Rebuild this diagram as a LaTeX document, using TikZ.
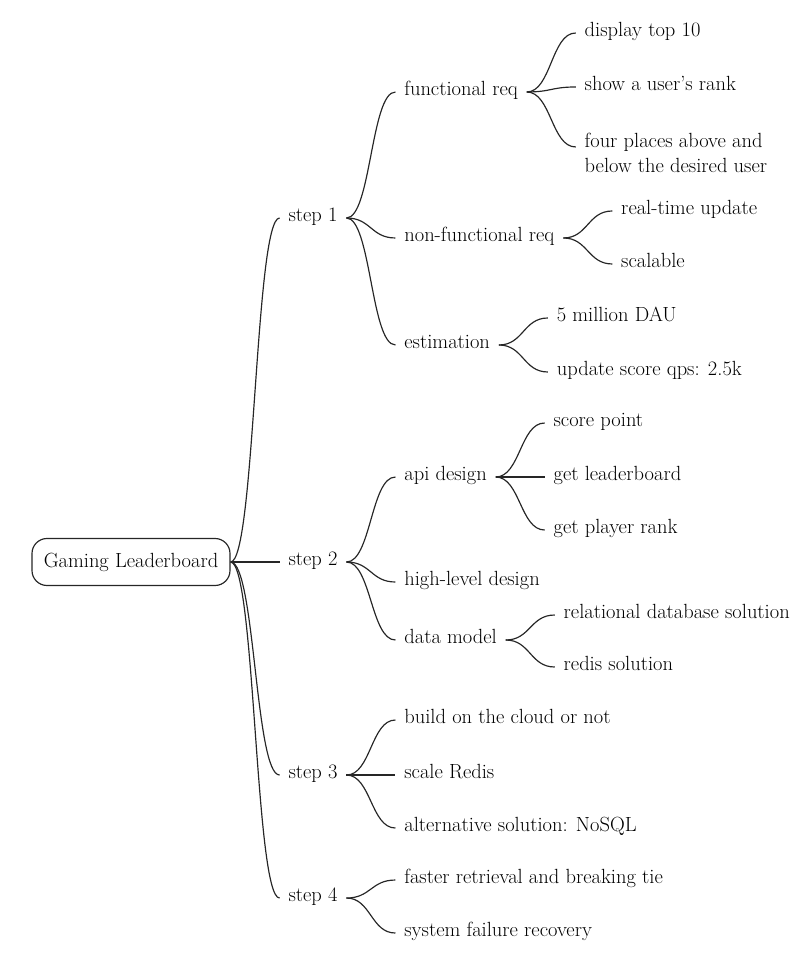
\documentclass[tikz,border=0pt]{standalone}
\usepackage{fontspec}
\usetikzlibrary{positioning,calc}
\begin{document}
\begin{tikzpicture}[x=0.03cm, y=-0.03cm, node distance=1.47cm, line width=1pt, black!85,
        main/.style = {draw=none, anchor=west, inner xsep=0.25cm, text height=2ex, text depth=0.6ex, text=black, font=\fontsize{17.5}{22}\selectfont},
        root/.style = {draw, rounded corners=0.45cm, minimum width=5.94cm, minimum height=1.41cm, text=black, font=\fontsize{17.5}{22}\selectfont},
        branch/.style = {to path={let \p1=(\tikztostart), \p2=(\tikztotarget) in
            .. controls ({0.5*\x1+0.5*\x2},\y1) and ({0.5*\x1+0.5*\x2},\y2) .. (\tikztotarget)}}]
    \useasboundingbox (0,0) rectangle (804,954);

    \node[root] (0) at (131,562)    {Gaming Leaderboard};
    \node[main] (1) [right=of 0, yshift=10.32cm]  {step 1};
    \node[main] (2) [right=of 0]                  {step 2};
    \node[main] (3) [right=of 0, yshift=-6.39cm]  {step 3};
    \node[main] (4) [right=of 0, yshift=-10.08cm] {step 4};

    \node[main] (11) [right=of 1, yshift=3.78cm]  {functional req};
    \node[main] (12) [right=of 1, yshift=-0.6cm]  {non-functional req};
    \node[main] (13) [right=of 1, yshift=-3.81cm] {estimation};
    \node[main] (111) [right=of 11, yshift=1.77cm] {display top 10};
    \node[main] (112) [right=of 11, yshift=0.15cm] {show a user's rank};
    \node[main, align=left, text height={}, text depth={}] (113) [right=of 11, yshift=-1.83cm] {four places above and\\below the desired user};
    \node[main] (121) [right=of 12, yshift=0.81cm]  {real-time update};
    \node[main] (122) [right=of 12, yshift=-0.78cm] {scalable};
    \node[main] (131) [right=of 13, yshift=0.81cm]  {5 million DAU};
    \node[main] (132) [right=of 13, yshift=-0.81cm] {update score qps: 2.5k};

    \node[main] (21) [right=of 2, yshift=2.55cm]  {api design};
    \node[main] (22) [right=of 2, yshift=-0.6cm]  {high-level design};
    \node[main] (23) [right=of 2, yshift=-2.34cm] {data model};
    \node[main] (211) [right=of 21, yshift=1.62cm]  {score point};
    \node[main] (212) [right=of 21]                 {get leaderboard};
    \node[main] (213) [right=of 21, yshift=-1.59cm] {get player rank};
    \node[main] (231) [right=of 23, yshift=0.75cm]  {relational database solution};
    \node[main] (232) [right=of 23, yshift=-0.81cm] {redis solution};

    \node[main] (31) [right=of 3, yshift=1.65cm]  {build on the cloud or not};
    \node[main] (32) [right=of 3]                 {scale Redis};
    \node[main] (33) [right=of 3, yshift=-1.59cm] {alternative solution: NoSQL};

    \node[main] (41) [right=of 4, yshift=0.54cm]  {faster retrieval and breaking tie};
    \node[main] (42) [right=of 4, yshift=-1.05cm] {system failure recovery};

    \draw[branch] (0.east) to (1.west);
    \draw[branch] (0.east) to (2.west);
    \draw[branch] (0.east) to (3.west);
    \draw[branch] (0.east) to (4.west);

    \draw[branch] (1.east) to (11.west);
    \draw[branch] (1.east) to (12.west);
    \draw[branch] (1.east) to (13.west);
    \draw[branch] (11.east) to (111.west);
    \draw[branch] (11.east) to (112.west);
    \draw[branch] (11.east) to ([yshift=0.18cm]113.west);
    \draw[branch] (12.east) to (121.west);
    \draw[branch] (12.east) to (122.west);
    \draw[branch] (13.east) to (131.west);
    \draw[branch] (13.east) to (132.west);

    \draw[branch] (2.east) to (21.west);
    \draw[branch] (2.east) to (22.west);
    \draw[branch] (2.east) to (23.west);
    \draw[branch] (21.east) to (211.west);
    \draw[branch] (21.east) to (212.west);
    \draw[branch] (21.east) to (213.west);
    \draw[branch] (23.east) to (231.west);
    \draw[branch] (23.east) to (232.west);

    \draw[branch] (3.east) to (31.west);
    \draw[branch] (3.east) to (32.west);
    \draw[branch] (3.east) to (33.west);
    \draw[branch] (4.east) to (41.west);
    \draw[branch] (4.east) to (42.west);
\end{tikzpicture}
\end{document}
